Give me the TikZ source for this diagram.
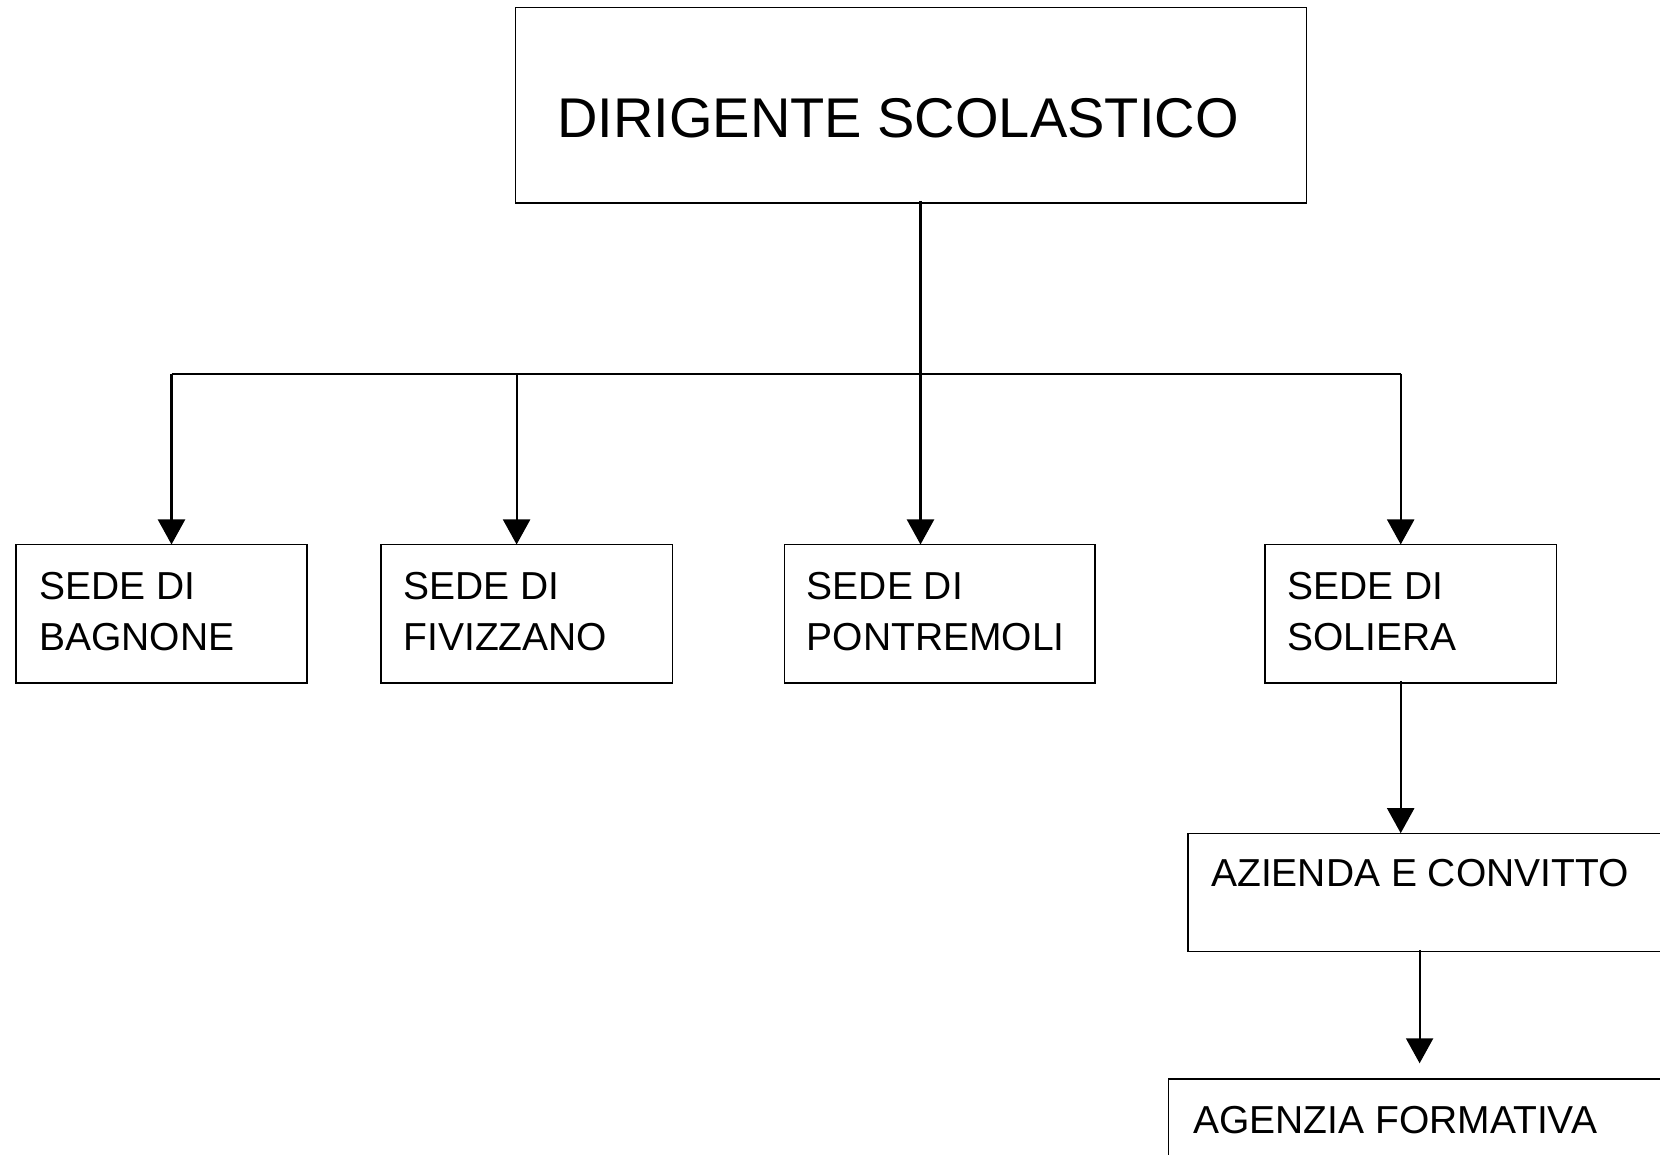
\documentclass[tikz,border=0pt]{standalone}
\usepackage{fontspec}
\setmainfont{Liberation Sans}
\usetikzlibrary{arrows.meta}
\begin{document}
\begin{tikzpicture}[x=1pt,y=1pt,
  box/.style={draw=black,line width=1.3pt,rectangle,inner sep=0pt,outer sep=0pt},
  lbl/.style={anchor=base west,inner sep=0pt,font=\fontsize{39}{51}\selectfont,align=left},
  conn/.style={line width=2.2pt},
  arr/.style={line width=2.2pt,-{Triangle[width=27pt,length=25pt]}}]
\useasboundingbox (0,0) rectangle (1660,1155);
\clip (0,0) rectangle (1660,1155);
\fill[white] (0,0) rectangle (1660,1155);
% boxes
\node[box,minimum width=790.5pt,minimum height=195.6pt] (top) at (911,1049.8) {};
\node[box,minimum width=291.1pt,minimum height=138.5pt] (bag) at (161.45,541.25) {};
\node[box,minimum width=291.2pt,minimum height=138.5pt] (fiv) at (526.7,541.25) {};
\node[box,minimum width=310.7pt,minimum height=138.5pt] (pon) at (939.65,541.25) {};
\node[box,minimum width=291.2pt,minimum height=138.5pt] (sol) at (1410.7,541.25) {};
\node[box,minimum width=492pt,minimum height=118.6pt] (az) at (1433.9,262.5) {};
\node[box,minimum width=512pt,minimum height=140pt] (ag) at (1424.2,6) {};
% texts
\node[anchor=base west,inner sep=0pt,font=\fontsize{56}{60}\selectfont] (ttop) at (557,1017) {DIRIGENTE SCOLASTICO};
\node[lbl] (tbag) at (39.2,504.5) {SEDE DI\\BAGNONE};
\node[lbl] (tfiv) at (403.4,504.5) {SEDE DI\\FIVIZZANO};
\node[lbl] (tpon) at (806.7,504.5) {SEDE DI\\PONTREMOLI};
\node[lbl] (tsol) at (1287.4,504.5) {SEDE DI\\SOLIERA};
\node[lbl] (taz) at (1211,268) {AZIENDA E CONVITTO};
\node[lbl] (tag) at (1193,21.7) {AGENZIA FORMATIVA};
% connectors
\coordinate (hl) at (171.5,781.3);
\coordinate (hr) at (1400.7,781.3);
\coordinate (agtip) at (1419.6,91.7);
\draw[conn] (hl) -- (hr);
\draw[arr] ([yshift=2pt]top.south -| 920.5,0) -- (pon.north -| 920.5,0);
\draw[arr] (hl) -- (bag.north -| hl);
\draw[arr] (516.6,781.3) -- (fiv.north -| 516.6,0);
\draw[arr] (hr) -- (sol.north -| hr);
\draw[arr] ([yshift=2pt]sol.south -| hr) -- (az.north -| hr);
\draw[arr] ([yshift=2pt]az.south -| agtip) -- (agtip);
\end{tikzpicture}
\end{document}
